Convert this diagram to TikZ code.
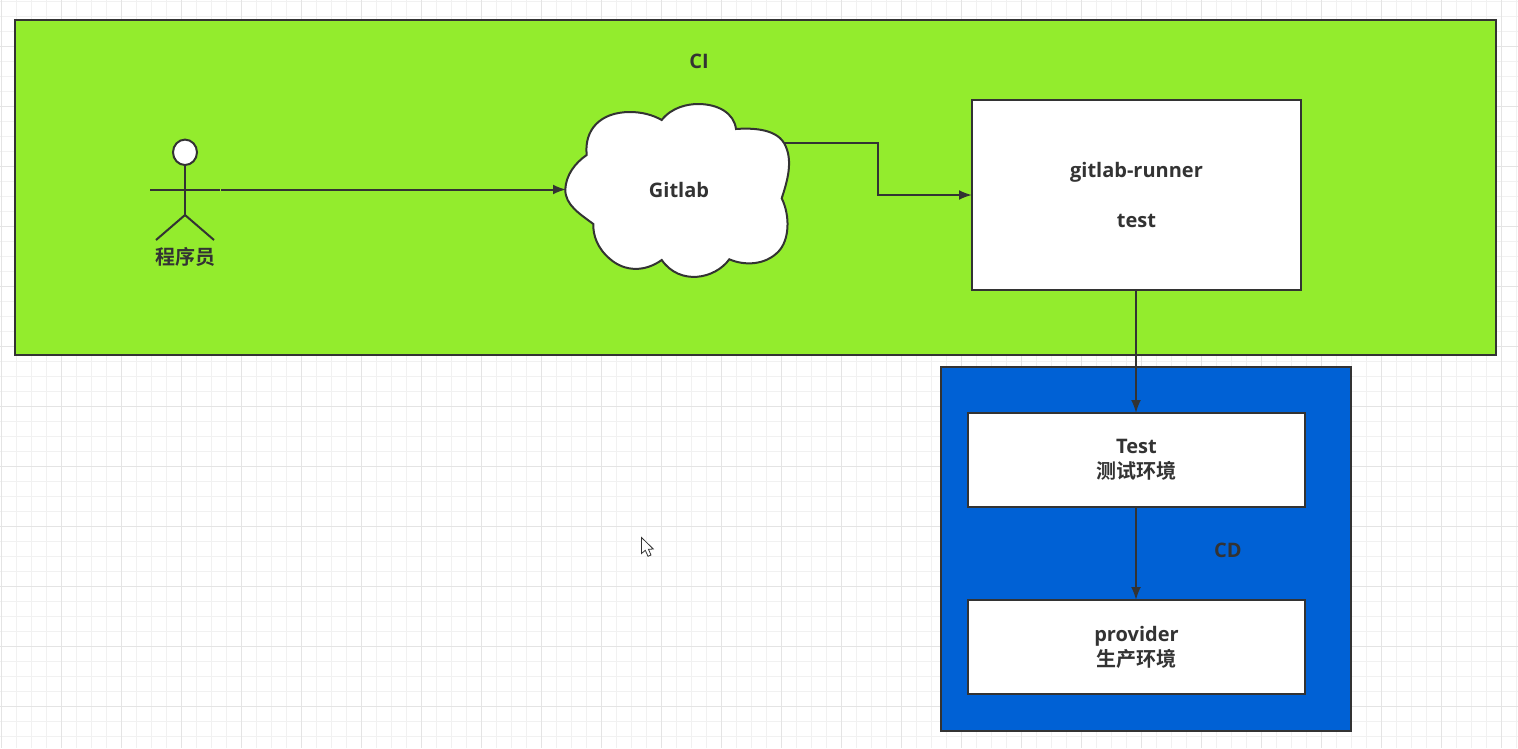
\documentclass[tikz,border=0pt]{standalone}
\usepackage{fontspec}
\usetikzlibrary{arrows.meta}
\setmainfont{Noto Sans CJK SC}[BoldFont={* Bold}]
\newfontfamily\latinbold{Open Sans}[BoldFont={* Bold}]
\definecolor{cigreen}{HTML}{93EC2D}
\definecolor{cdblue}{HTML}{0061D5}
\definecolor{ink}{HTML}{333333}
\definecolor{gridminor}{HTML}{F1F1F1}
\definecolor{gridmajor}{HTML}{E4E4E4}
\tikzset{
  panel/.style={draw=ink,line width=2pt,inner sep=0pt,outer sep=0pt},
  whitebox/.style={panel,fill=white,font=\fontsize{20}{26}\selectfont\bfseries,text=ink,align=center},
  label/.style={font=\fontsize{20}{26}\selectfont\bfseries,text=ink,align=center,inner sep=0pt},
  conn/.style={draw=ink,line width=2pt,-{Latex[length=13pt,width=10pt]}},
  stick/.style={draw=ink,line width=2pt},
}
\begin{document}
\begin{tikzpicture}[x=1pt,y=-1pt]
\useasboundingbox (0,0) rectangle (1518,748);
% grid
\foreach \gx in {1.7,16.7,...,1518}{\draw[gridminor,line width=1pt] (\gx,0)--(\gx,748);}
\foreach \gy in {1.7,16.7,...,748}{\draw[gridminor,line width=1pt] (0,\gy)--(1518,\gy);}
\foreach \gx in {1.7,61.7,...,1518}{\draw[gridmajor,line width=1pt] (\gx,0)--(\gx,748);}
\foreach \gy in {46.7,106.7,...,748}{\draw[gridmajor,line width=1pt] (0,\gy)--(1518,\gy);}
% panels
\node[panel,fill=cigreen,minimum width=1481pt,minimum height=335pt] (ci) at (755.5,187.5) {};
\node[panel,fill=cdblue,minimum width=410pt,minimum height=364pt] (cd) at (1146,549) {};
\node[label] (citext) at (699,61) {\latinbold CI};
\node[label] (cdtext) at (1228,550) {\latinbold CD};
% boxes
\node[whitebox,minimum width=329pt,minimum height=190pt] (runner) at (1136.5,195) {\latinbold gitlab-runner\\[24pt]\latinbold test};
\node[whitebox,minimum width=337pt,minimum height=94pt] (testenv) at (1136.5,460) {\latinbold Test\\[-1pt]测试环境};
\node[whitebox,minimum width=337pt,minimum height=94pt] (prod) at (1136.5,647) {\latinbold provider\\[-1pt]生产环境};
\coordinate (runnerS) at (1136,290);
\coordinate (testN) at (1136,413);
\coordinate (testS) at (1136,507);
\coordinate (prodN) at (1136,600);
\coordinate (runnerW) at (972,195);
% cloud
\draw[panel,fill=white] (565.3,189.3)
  .. controls (566,175) and (575,163) .. (586.7,155)
  .. controls (584,130) and (600,112) .. (630,112)
  .. controls (642,112) and (653,115) .. (661.7,120)
  .. controls (672,107) and (688,104) .. (698,104)
  .. controls (718,104) and (734,113) .. (736,129)
  .. controls (750,128) and (775,128) .. (784,143)
  .. controls (794,160) and (787,182) .. (781.7,198.3)
  .. controls (790,215) and (790,240) .. (778,252)
  .. controls (765,265) and (745,266) .. (729.3,259.3)
  .. controls (715,279) and (680,286) .. (661.7,260)
  .. controls (645,272) and (625,272) .. (610,259)
  .. controls (597,248) and (593,235) .. (593.3,224)
  .. controls (580,214) and (565,205) .. (565.3,189.3) -- cycle;
\node[label] (gitlab) at (679,190) {\latinbold Gitlab};
\coordinate (cloudW) at (566,189.5);
\coordinate (cloudE) at (784,143);
% actor
\draw[stick,fill=white] (185,152.3) ellipse [x radius=12pt,y radius=12.7pt];
\coordinate (head) at (185,165);
\coordinate (hip) at (185,215);
\coordinate (armL) at (150,189.5);
\coordinate (armR) at (220,189.5);
\coordinate (armNext) at (221,189.5);
\draw[stick] (head) -- (hip);
\draw[stick] (armL) -- (armR);
\draw[stick] (156,240) -- (hip) -- (214,240);
\node[label] (actor) at (185,256.5) {程序员};
% connectors
\draw[conn] (armNext) -- (cloudW);
\draw[conn] (cloudE) -- (878,143) -- (878,195) -- (runnerW);
\draw[conn] (runnerS) -- (testN);
\draw[conn] (testS) -- (prodN);
% pointer
\draw[draw=ink,fill=white,line width=0.8pt,line join=miter]
  (641.5,537.5) -- (641.5,553.5) -- (645.3,550.3) -- (648,556.3) -- (651,555) -- (648.5,549.3) -- (653.3,549) -- cycle;
\end{tikzpicture}
\end{document}
